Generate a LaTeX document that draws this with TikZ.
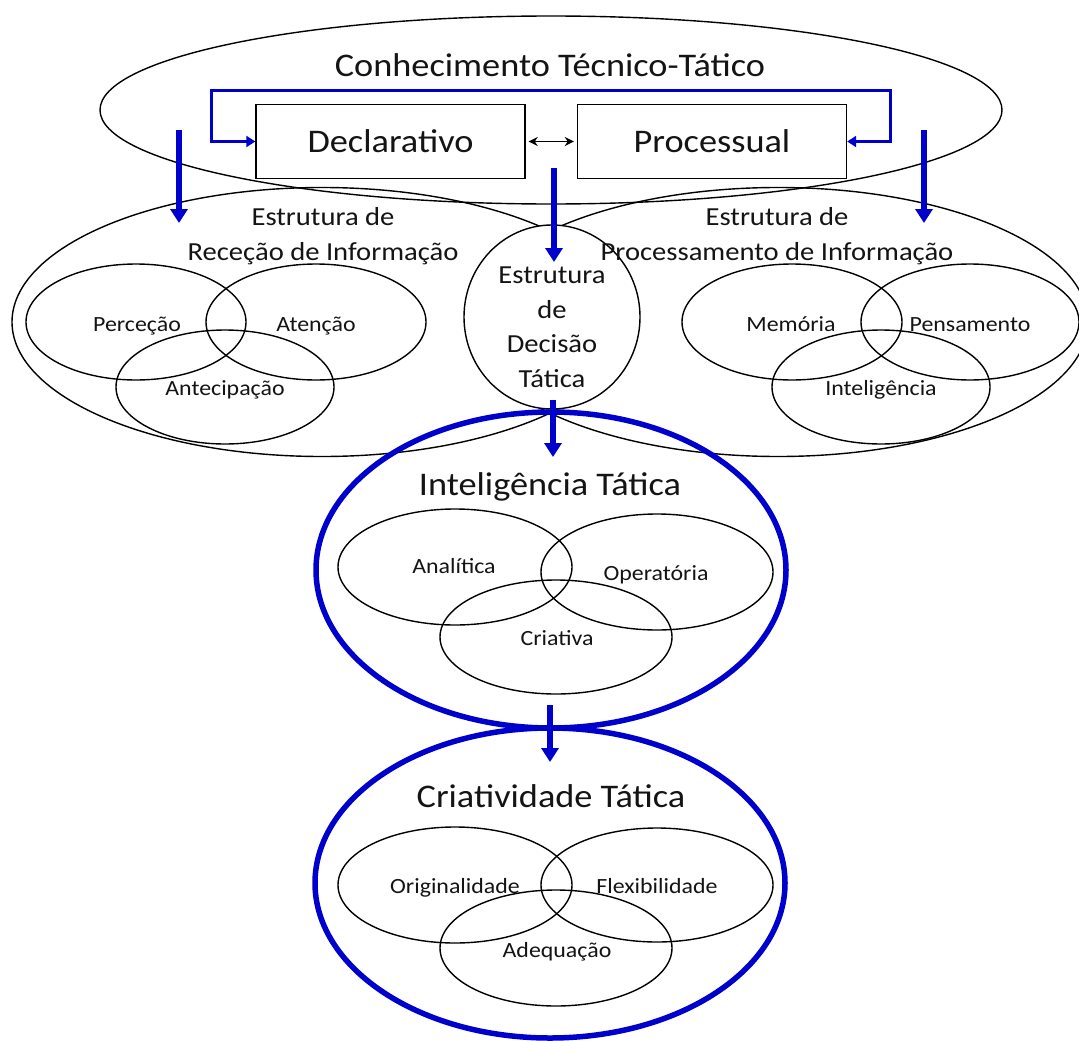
\documentclass[tikz,border=0pt]{standalone}
\usepackage{fontspec}
\setmainfont{Carlito}[FakeStretch=1.1]
\usetikzlibrary{arrows.meta,shapes.geometric}
\definecolor{dblue}{RGB}{0,0,205}
\definecolor{txtc}{RGB}{20,20,20}
\begin{document}
\begin{tikzpicture}[x=1pt,y=-1pt,
  ell/.style={ellipse,draw=black,line width=1.4pt,inner sep=0pt,outer sep=0pt},
  blueell/.style={ellipse,draw=dblue,line width=5.5pt,inner sep=0pt,outer sep=0pt},
  boxn/.style={rectangle,draw=black,line width=1.4pt,fill=white,minimum width=269pt,minimum height=74pt,inner sep=0pt,text=txtc,font=\fontsize{33}{40}\selectfont},
  bigtxt/.style={anchor=base,inner sep=0pt,text=txtc,font=\fontsize{33}{40}\selectfont},
  midtxt/.style={anchor=base,inner sep=0pt,text=txtc,font=\fontsize{26}{31}\selectfont},
  smalltxt/.style={anchor=base,inner sep=0pt,text=txtc,font=\fontsize{21.7}{26}\selectfont},
  barrow/.style={draw=dblue,line width=5.5pt,-{Triangle[length=14pt,width=17pt]}},
  brk/.style={draw=dblue,line width=3pt,{Triangle[length=9pt,width=11pt]}-{Triangle[length=9pt,width=11pt]}}
]
\useasboundingbox (0,0) rectangle (1079,1041);
\fill[white] (0,0) rectangle (1079,1041);
\clip (0,0) rectangle (1079,1041);

% top ellipse and boxes
\node[ell,minimum width=902pt,minimum height=188pt] (top) at (551,110) {};
\node[boxn] (decl) at (390.5,141.5) {Declarativo};
\node[boxn] (proc) at (712,141.5) {Processual};
\node[bigtxt] (toptxt) at (550,77) {Conhecimento Técnico-Tático};

% big structure ellipses
\node[ell,minimum width=620pt,minimum height=269pt] (rec) at (322,322) {};
\node[ell,minimum width=620pt,minimum height=269pt] (pro) at (778,322) {};
\node[ell,fill=white,minimum width=176pt,minimum height=184pt] (dec) at (552,317) {};

\node[midtxt] (rec1) at (323,225) {Estrutura de};
\node[midtxt] (rec2) at (323,260) {Receção de Informação};
\node[midtxt] (pro1) at (777,225) {Estrutura de};
\node[midtxt] (pro2) at (777,260) {Processamento de Informação};
\node[midtxt] (dec1) at (552,283) {Estrutura};
\node[midtxt] (dec2) at (552,318) {de};
\node[midtxt] (dec3) at (552,352.5) {Decisão};
\node[midtxt] (dec4) at (552,387) {Tática};

% small ellipses, reception
\node[ell,minimum width=220pt,minimum height=116pt] (perc) at (136,322) {};
\node[ell,minimum width=220pt,minimum height=116pt] (aten) at (316,322) {};
\node[ell,minimum width=218pt,minimum height=114pt] (ante) at (225,387) {};
\node[smalltxt] (percT) at (137,331) {Perceção};
\node[smalltxt] (atenT) at (316,331) {Atenção};
\node[smalltxt] (anteT) at (225,395) {Antecipação};

% small ellipses, processing
\node[ell,minimum width=220pt,minimum height=116pt] (memo) at (792,322) {};
\node[ell,minimum width=218pt,minimum height=116pt] (pens) at (970,322) {};
\node[ell,minimum width=218pt,minimum height=114pt] (inte) at (881,387) {};
\node[smalltxt] (memoT) at (791,331) {Memória};
\node[smalltxt] (pensT) at (970,331) {Pensamento};
\node[smalltxt] (inteT) at (881,395) {Inteligência};

% Inteligencia Tatica
\node[ell,minimum width=234pt,minimum height=116pt] (anal) at (455,567) {};
\node[ell,minimum width=232pt,minimum height=116pt] (oper) at (657,572) {};
\node[ell,minimum width=232pt,minimum height=114pt] (cria) at (556,637) {};
\node[smalltxt] (analT) at (454,573) {Analítica};
\node[smalltxt] (operT) at (656,580) {Operatória};
\node[smalltxt] (criaT) at (557,645) {Criativa};
\node[bigtxt] (itT) at (550,495) {Inteligência Tática};
\node[blueell,minimum width=470pt,minimum height=316pt] (it) at (551,570) {};

% Criatividade Tatica
\node[ell,minimum width=234pt,minimum height=116pt] (orig) at (455,885) {};
\node[ell,minimum width=232pt,minimum height=114pt] (flex) at (657,885) {};
\node[ell,minimum width=232pt,minimum height=116pt] (adeq) at (556,948) {};
\node[smalltxt] (origT) at (455,893) {Originalidade};
\node[smalltxt] (flexT) at (657,893) {Flexibilidade};
\node[smalltxt] (adeqT) at (557,957) {Adequação};
\node[bigtxt] (ctT) at (551,807) {Criatividade Tática};
\node[blueell,minimum width=470pt,minimum height=310pt] (ct) at (550,883) {};

% connectors
\coordinate (bl) at (211,90);
\coordinate (br) at (890,90);
\draw[brk] (decl.west) -| (bl) -- (br) |- (proc.east);
\draw[black,line width=1.8pt,{Stealth[length=9pt,width=9pt]}-{Stealth[length=9pt,width=9pt]},shorten <=3pt,shorten >=3pt] (decl.east) -- (proc.west);

\coordinate (aLs) at (179,130); \coordinate (aLe) at (179,223);
\coordinate (aRs) at (924,130); \coordinate (aRe) at (924,223);
\coordinate (aMs) at (554,168); \coordinate (aMe) at (554,262);
\coordinate (aIs) at (553,400); \coordinate (aIe) at (553,457);
\coordinate (aCs) at (550,705); \coordinate (aCe) at (550,762);
\draw[barrow] (aLs) -- (aLe);
\draw[barrow] (aRs) -- (aRe);
\draw[barrow] (aMs) -- (aMe);
\draw[barrow] (aIs) -- (aIe);
\draw[barrow] (aCs) -- (aCe);
\end{tikzpicture}
\end{document}
